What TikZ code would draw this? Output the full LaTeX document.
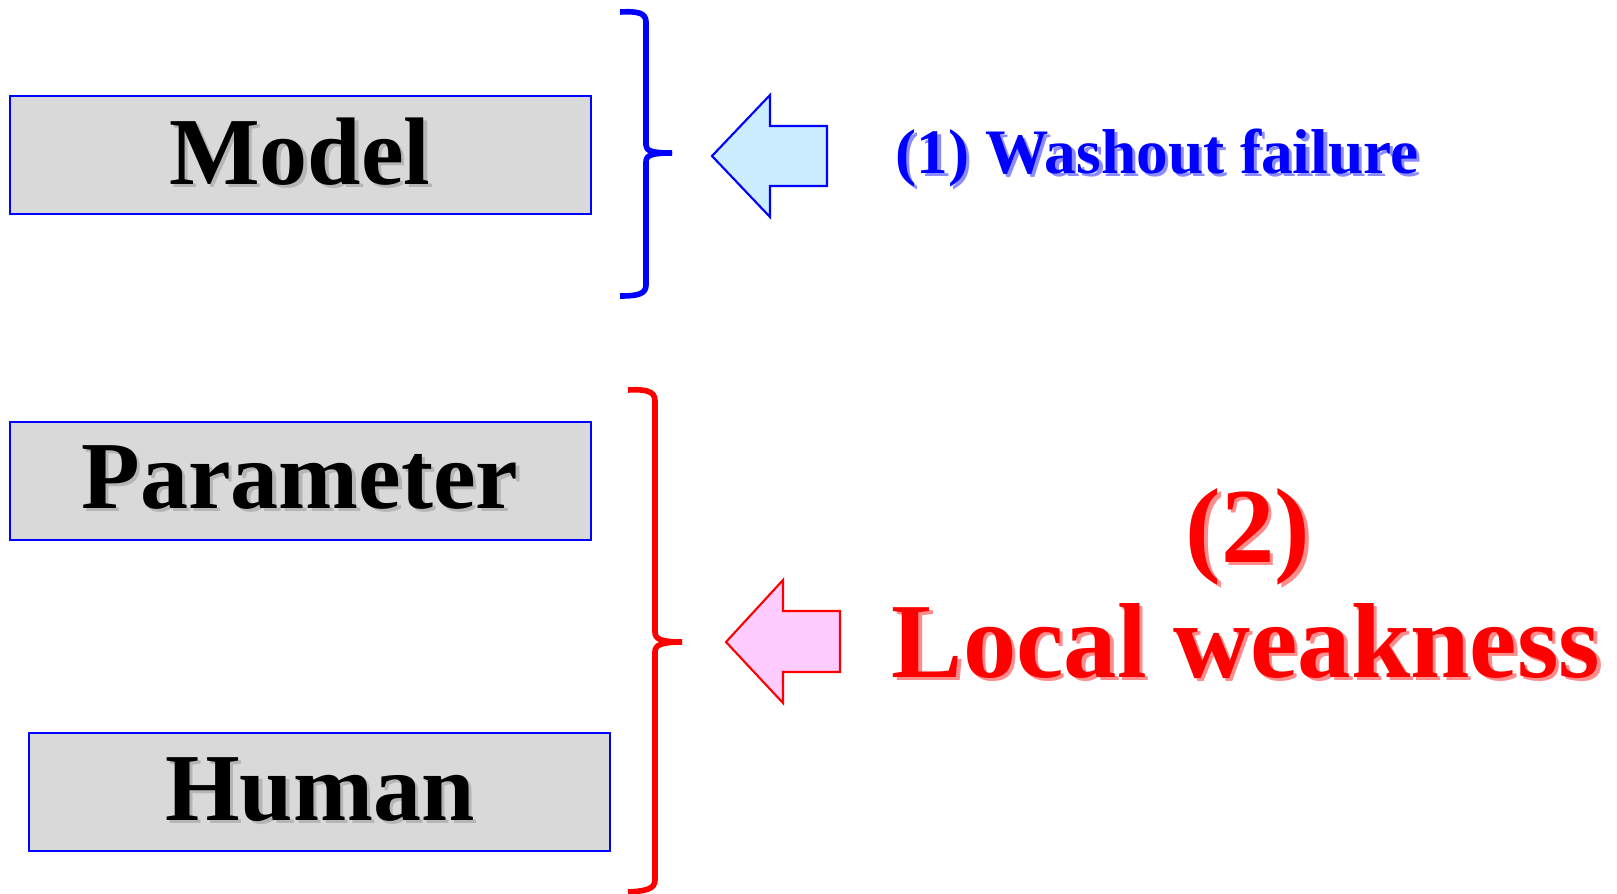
\documentclass[tikz,border=0pt]{standalone}
\usepackage{fontspec}
\setmainfont{Liberation Serif}
\definecolor{boxgray}{HTML}{D9D9D9}
\definecolor{pblue}{HTML}{0000FF}
\definecolor{pred}{HTML}{FF0000}
\definecolor{lblue}{HTML}{CCECFF}
\definecolor{lpink}{HTML}{FFCCFF}
\definecolor{shadowgray}{HTML}{8A8A8A}
\tikzset{
  boxnode/.style={draw=pblue, line width=1.5pt, fill=boxgray, inner sep=0pt, minimum width=435.75pt, minimum height=88.5pt},
  txt/.style={inner sep=0pt, anchor=base, font=\bfseries\fontsize{72}{72}\selectfont},
  shadowtxt/.style={txt, text=shadowgray, opacity=0.45},
  bracestyle/.style={line width=4.2pt, line cap=butt, line join=round},
  arrowshape/.style={line width=1.6pt, line join=miter}
}
\newcommand{\shtext}[4]{%
  \node[shadowtxt, #3] at ($(#1)+(3.5,3.5)$) {#4};%
  \node[txt, #3] (#2) at (#1) {#4};}
\usetikzlibrary{calc}
\begin{document}
\begin{tikzpicture}[x=0.75pt, y=-0.75pt]
\useasboundingbox (0,0) rectangle (1617,893);
% boxes
\node[boxnode] (modelbox) at (300.5,155) {};
\node[boxnode] (parambox) at (300.5,481) {};
\node[boxnode] (humanbox) at (319,792) {};
% box texts
\coordinate (mt) at (300,184);
\coordinate (pt) at (300,508);
\coordinate (ht) at (320,820);
\shtext{mt}{model}{}{Model}
\shtext{pt}{param}{}{Parameter}
\shtext{ht}{human}{}{Human}
% blue brace
\draw[bracestyle, pblue] (620,12) .. controls (638,11) and (646,13) .. (646,22)
  -- (646,145) .. controls (646,151) and (652,153) .. (672,153);
\draw[bracestyle, pblue] (672,153) .. controls (652,153) and (646,155) .. (646,162)
  -- (646,285) .. controls (646,294) and (638,296) .. (620,296);
% red brace
\draw[bracestyle, pred] (628,390) .. controls (646,389) and (655,391) .. (655,401)
  -- (655,632) .. controls (655,639) and (661,642) .. (682,642);
\draw[bracestyle, pred] (682,642) .. controls (661,642) and (655,645) .. (655,652)
  -- (655,880) .. controls (655,889) and (646,891) .. (628,892);
% blue arrow
\draw[arrowshape, draw=pblue, fill=lblue] (712,156) -- (770,95) -- (770,126) -- (827,126)
  -- (827,186) -- (770,186) -- (770,217) -- cycle;
% red arrow
\draw[arrowshape, draw=pred, fill=lpink] (726,642) -- (783,580) -- (783,611) -- (840,611)
  -- (840,672) -- (783,672) -- (783,703) -- cycle;
% labels
\coordinate (wt) at (1157,173);
\shtext{wt}{wash}{text=pblue, font=\bfseries\fontsize{47.5}{47.5}\selectfont}{(1) Washout failure}
\coordinate (nt) at (1248,562);
\shtext{nt}{num}{text=pred, font=\bfseries\fontsize{80}{80}\selectfont}{(2)}
\coordinate (lt) at (1246,677);
\shtext{lt}{local}{text=pred, font=\bfseries\fontsize{80}{80}\selectfont}{Local weakness}
\end{tikzpicture}
\end{document}
